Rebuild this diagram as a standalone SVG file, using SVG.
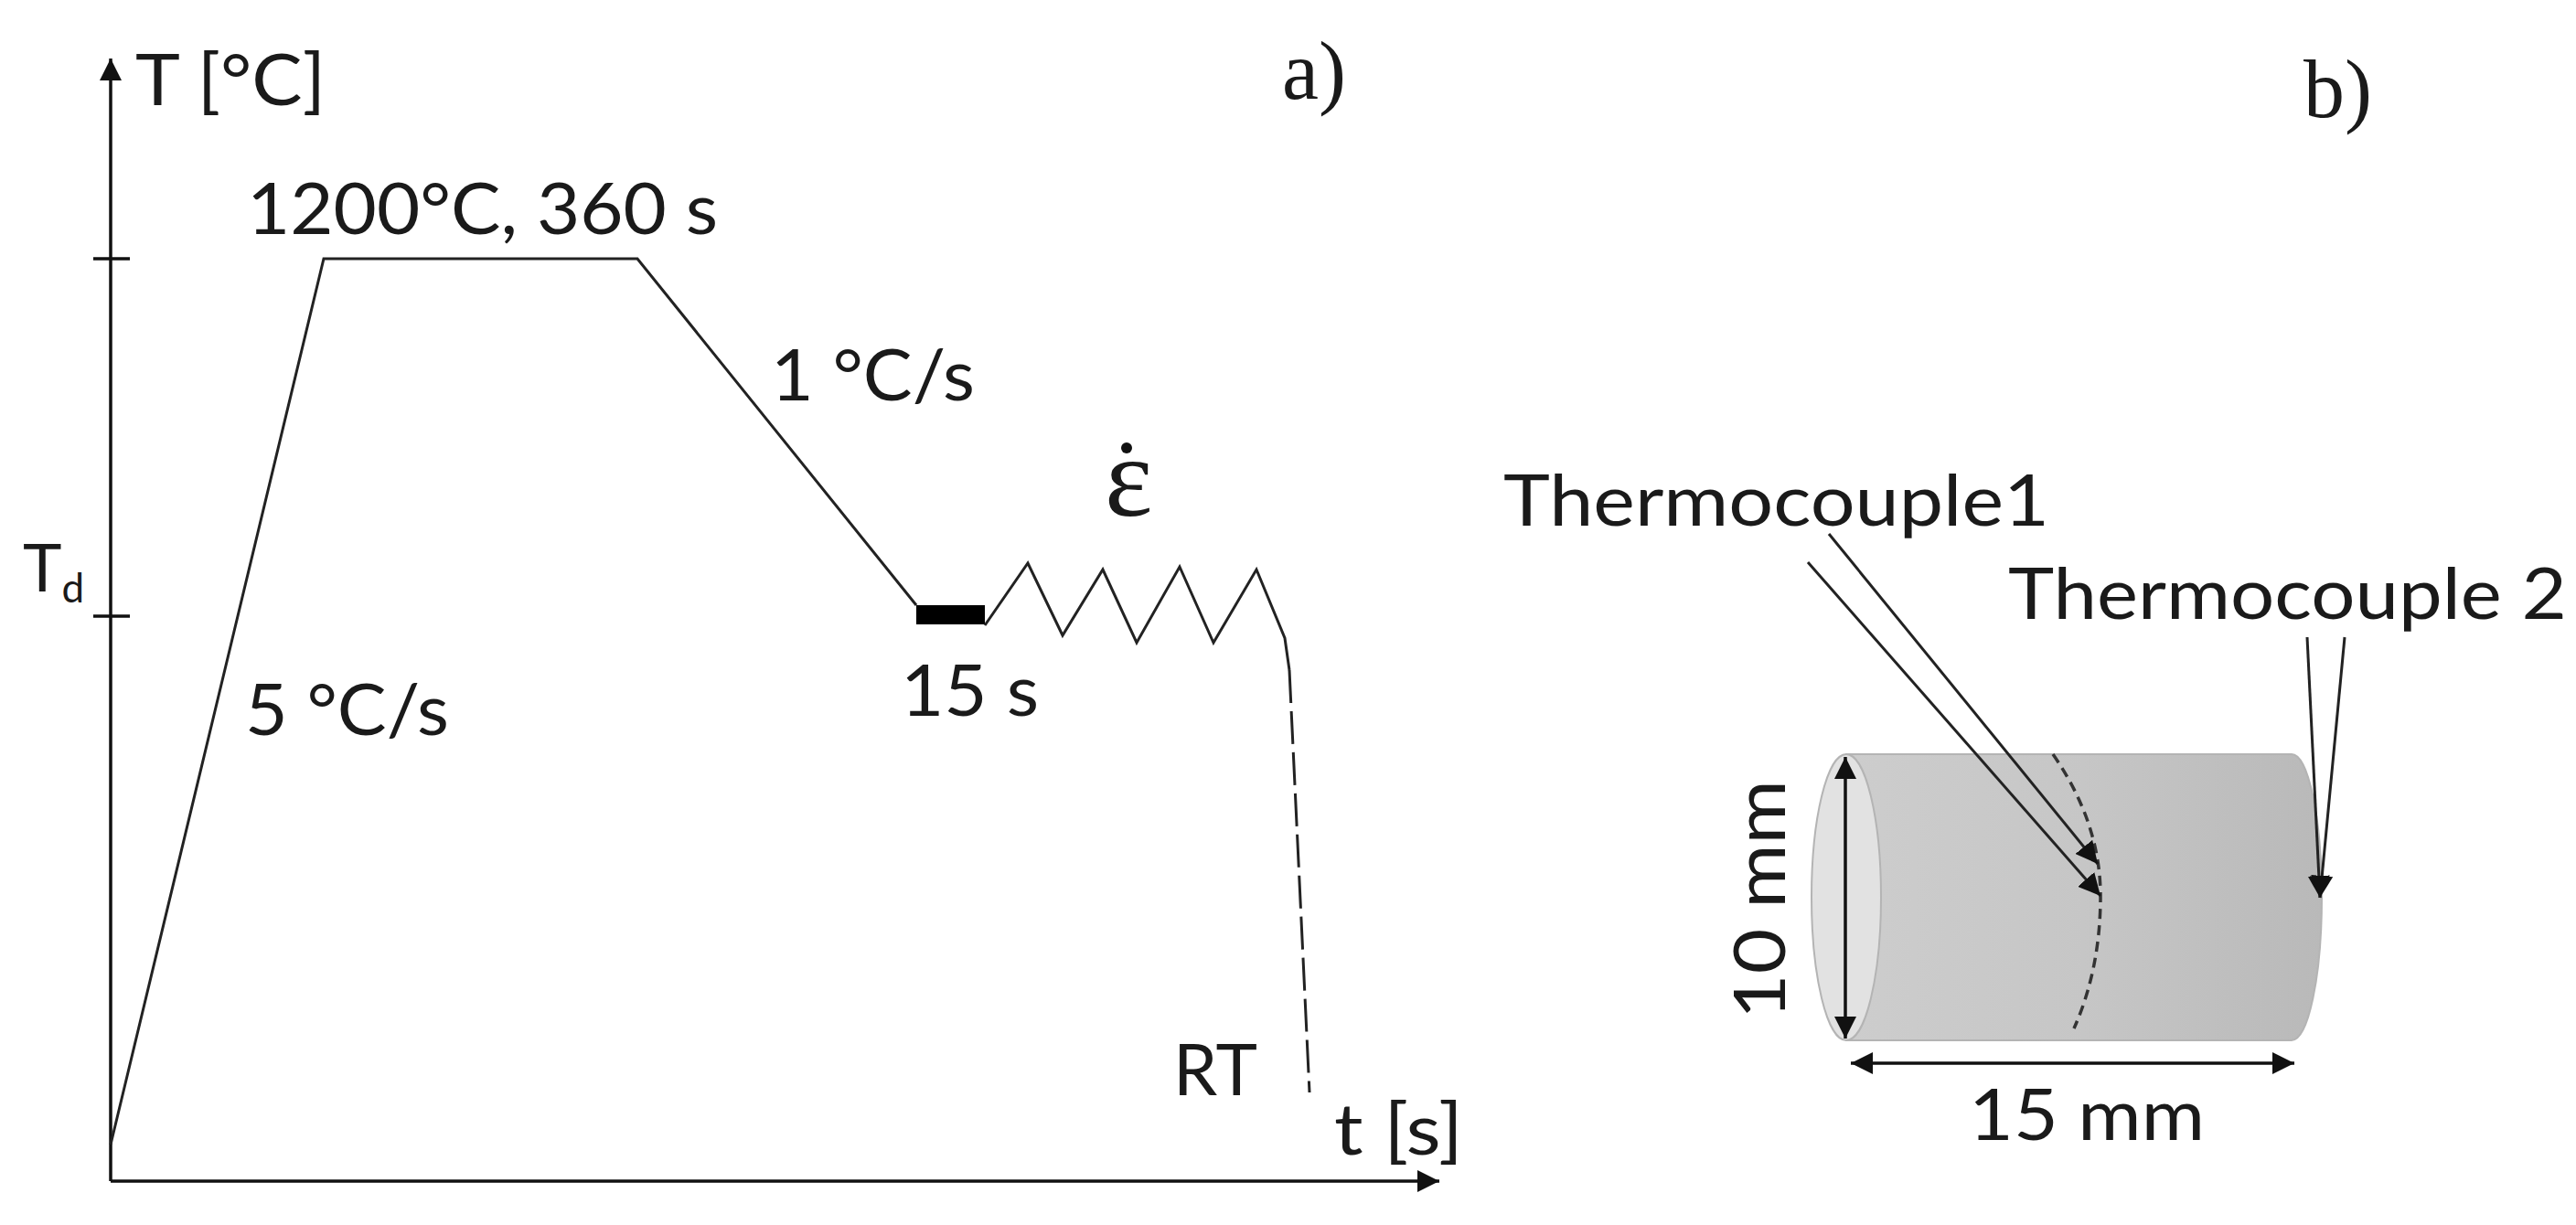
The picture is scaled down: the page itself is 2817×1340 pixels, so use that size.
<svg xmlns="http://www.w3.org/2000/svg" width="2817" height="1340" viewBox="0 0 2817 1340">
<defs>
<style>
text{font-family:Lato,"Noto Sans",sans-serif;font-size:78px;fill:#1a1a1a}
.serif{font-family:"Liberation Serif",serif;font-size:90px}
.ln{fill:none;stroke:#222;stroke-width:3}
.ax{fill:none;stroke:#111;stroke-width:3.5}
</style>
<linearGradient id="cyl" x1="0" x2="1" y1="0" y2="0"><stop offset="0" stop-color="#cdcdcd"/><stop offset="0.5" stop-color="#c6c6c6"/><stop offset="1" stop-color="#b9b9b9"/></linearGradient>
<marker id="ah" viewBox="0 0 10 10" refX="10" refY="5" markerWidth="24" markerHeight="24" markerUnits="userSpaceOnUse" orient="auto-start-reverse"><path d="M0 0L10 5L0 10Z" fill="#111"/></marker>
</defs>
<rect width="2817" height="1340" fill="#fff"/>
<g id="cylinder">
<path d="M2019 825H2506A33 156.500 0 0 1 2506 1138H2019Z" fill="url(#cyl)" stroke="#b4b4b4" stroke-width="2"/>
<ellipse cx="2019" cy="981.500" rx="38" ry="156.500" fill="#e2e2e2" stroke="#b4b4b4" stroke-width="2"/>
<path d="M2245 825Q2297 900 2297 980Q2297 1060 2268 1125" fill="none" stroke="#333" stroke-width="3.500" stroke-dasharray="11 7"/>
</g>
<g id="connectors">
<path class="ax" d="M121 1292V64" marker-end="url(#ah)"/>
<path class="ax" d="M121 1292H1574" marker-end="url(#ah)"/>
<path class="ax" d="M102 283H142M102 674H142"/>
<path class="ln" d="M121 1252L354 283H697L1002 662"/>
<rect x="1002" y="662" width="75" height="21" fill="#000"/>
<path class="ln" d="M1077 684L1124 616L1162 695L1206 623L1243 703L1290 620L1327 703L1374 623L1405 698L1410 733"/>
<path class="ln" d="M1410 733L1432 1195" stroke-dasharray="36 9"/>
<path class="ln" d="M1977 615L2297 980" marker-end="url(#ah)"/>
<path class="ln" d="M2000 584L2294 945" marker-end="url(#ah)"/>
<path class="ln" d="M2523 697L2537 982" marker-end="url(#ah)"/>
<path class="ln" d="M2564 697L2537 982" marker-end="url(#ah)"/>
<path class="ax" d="M2018 828V1136" marker-start="url(#ah)" marker-end="url(#ah)"/>
<path class="ax" d="M2024 1163H2509" marker-start="url(#ah)" marker-end="url(#ah)"/>
</g>
<g id="labels">
<text x="148" y="115" textLength="208" lengthAdjust="spacingAndGlyphs">T [°C]</text>
<text x="270" y="256" textLength="515" lengthAdjust="spacingAndGlyphs">1200°C, 360 s</text>
<text x="843" y="438" textLength="223" lengthAdjust="spacingAndGlyphs">1 °C/s</text>
<text x="268" y="804" textLength="223" lengthAdjust="spacingAndGlyphs">5 °C/s</text>
<text x="985" y="783" textLength="151" lengthAdjust="spacingAndGlyphs">15 s</text>
<text x="1283" y="1198" textLength="92" lengthAdjust="spacingAndGlyphs">RT</text>
<text x="1459" y="1263" textLength="141" lengthAdjust="spacingAndGlyphs">t [s]</text>
<text x="25" y="647" style="font-size:72px">T<tspan font-size="44" dy="12">d</tspan></text>
<text x="1208" y="564" style="font-family:'Liberation Serif',serif;font-size:125px">ε</text>
<circle cx="1232" cy="490" r="6" fill="#111"/>
<text class="serif" x="1402" y="108">a)</text>
<text class="serif" x="2519" y="128">b)</text>
<text x="1644" y="575" textLength="597" lengthAdjust="spacingAndGlyphs">Thermocouple1</text>
<text x="2196" y="677" textLength="611" lengthAdjust="spacingAndGlyphs">Thermocouple 2</text>
<text x="2153" y="1247" textLength="258" lengthAdjust="spacingAndGlyphs">15 mm</text>
<text transform="translate(1952 1115) rotate(-90)" textLength="262" lengthAdjust="spacingAndGlyphs">10 mm</text>
</g>
</svg>
